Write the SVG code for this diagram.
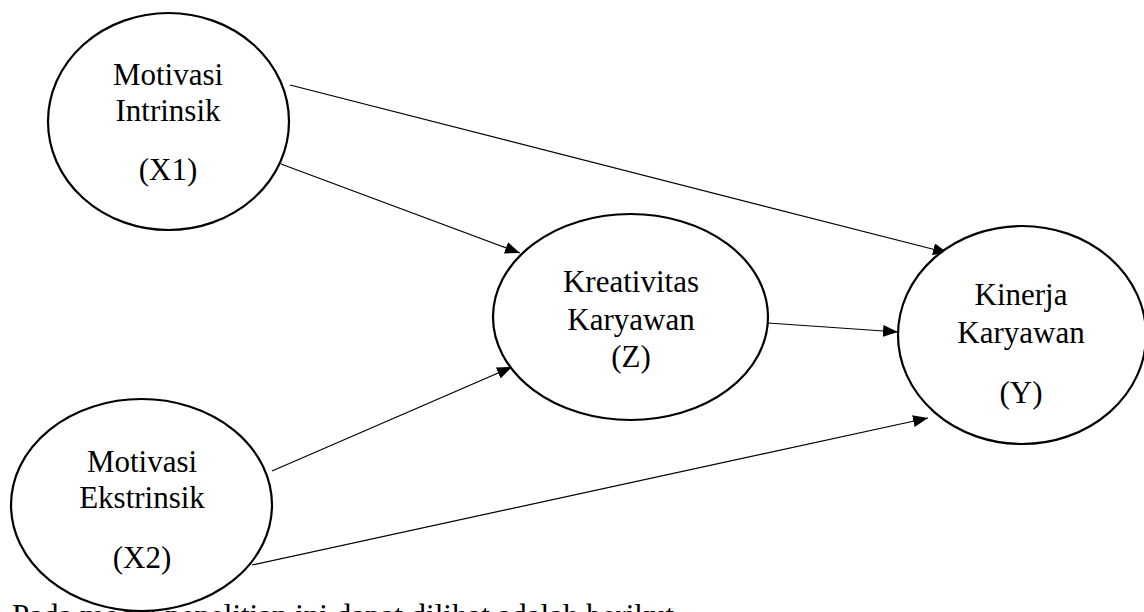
<svg xmlns="http://www.w3.org/2000/svg" width="1144" height="612" viewBox="0 0 1144 612">
<style>
.node{fill:#fff;stroke:#000;stroke-width:2.2}
.lbl{font-size:31px;fill:#000;text-anchor:middle}
.body{font-size:31px;fill:#000}
.edge{stroke:#000;stroke-width:1.2;fill:none;marker-end:url(#arr)}
</style>
<defs>
<marker id="arr" markerUnits="userSpaceOnUse" markerWidth="16" markerHeight="12" refX="15" refY="6" orient="auto">
<path d="M0,0 L15,6 L0,12 z" fill="#000"/>
</marker>
</defs>
<rect width="1144" height="612" fill="#fff"/>
<g font-family="Liberation Serif, Times New Roman, DejaVu Serif, serif">
<text class="body" x="12" y="626">Pada model penelitian ini dapat dilihat adalah berikut</text>
<g id="connectors">
<line class="edge" x1="290" y1="85" x2="948" y2="253"/>
<line class="edge" x1="281" y1="164" x2="520" y2="253"/>
<line class="edge" x1="272" y1="471" x2="512" y2="367"/>
<line class="edge" x1="252" y1="565" x2="928" y2="418"/>
<line class="edge" x1="768" y1="323" x2="898" y2="332"/>
</g>
<g id="x1">
<ellipse class="node" cx="168.5" cy="121.5" rx="120.5" ry="108.5"/>
<text class="lbl" x="168" y="85">Motivasi</text>
<text class="lbl" x="168" y="121">Intrinsik</text>
<text class="lbl" x="168" y="180">(X1)</text>
</g>
<g id="x2">
<ellipse class="node" cx="141.5" cy="505" rx="130.5" ry="106"/>
<text class="lbl" x="142" y="472">Motivasi</text>
<text class="lbl" x="142" y="508">Ekstrinsik</text>
<text class="lbl" x="142" y="568">(X2)</text>
</g>
<g id="z">
<ellipse class="node" cx="630.5" cy="317" rx="137.5" ry="103"/>
<text class="lbl" x="631" y="292">Kreativitas</text>
<text class="lbl" x="631" y="330">Karyawan</text>
<text class="lbl" x="631" y="367">(Z)</text>
</g>
<g id="y">
<ellipse class="node" cx="1022" cy="335" rx="124" ry="109"/>
<text class="lbl" x="1021" y="305">Kinerja</text>
<text class="lbl" x="1021" y="343">Karyawan</text>
<text class="lbl" x="1021" y="403">(Y)</text>
</g>
</g>
</svg>
